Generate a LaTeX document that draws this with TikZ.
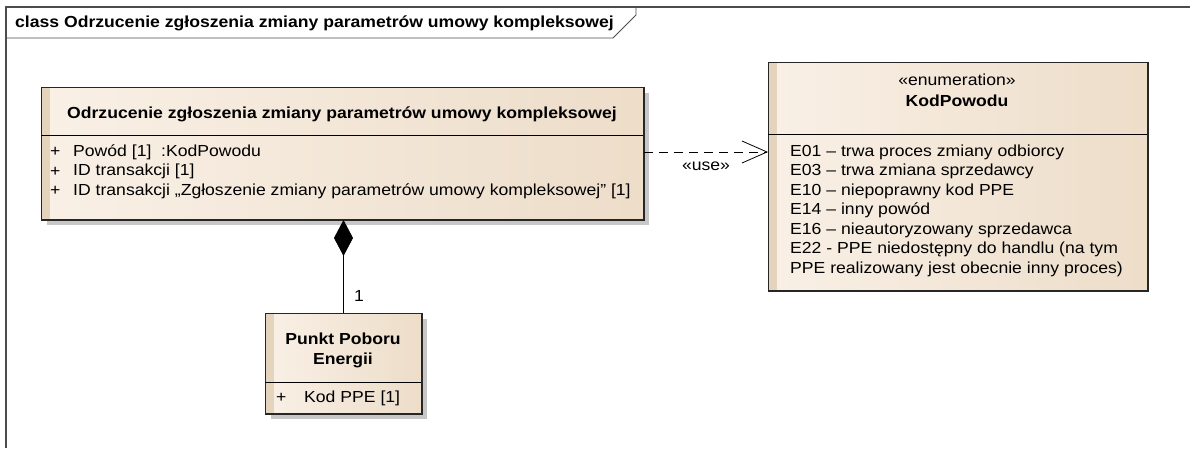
\documentclass[tikz,border=0pt]{standalone}
\usepackage{fontspec}
\setmainfont[FakeStretch=1.1]{Liberation Sans}
\usetikzlibrary{arrows.meta,shadows}
\definecolor{beigeL}{HTML}{F9F0E6}
\definecolor{beigeR}{HTML}{EDDDC9}
\definecolor{stripe}{HTML}{E4D3BD}
\begin{document}
\begin{tikzpicture}[x=1pt,y=-1pt,font=\fontsize{16}{20}\selectfont,
    cls/.style={draw=black!85,line width=1pt,left color=beigeL,right color=beigeR,anchor=north west,inner sep=0pt},
    shad/.style={drop shadow={shadow xshift=5pt,shadow yshift=-5pt,fill=black!22,opacity=1}},
    lbl/.style={anchor=west,inner sep=0pt},
    ttl/.style={inner sep=0pt,font=\fontsize{16}{20}\selectfont\bfseries},
    dep/.style={dashed,dash pattern=on 9pt off 6pt,line width=0.8pt,-{Straight Barb[length=25pt,width=22pt,line width=0.8pt]}},
    comp/.style={line width=0.8pt,-{Diamond[length=36pt,width=19pt]}}]
  \useasboundingbox (0,0) rectangle (1190,448);

  % frame and its tab
  \draw[line width=1.2pt,black!70] (6,448) -- (6,7) -- (1190,7);
  \draw[line width=0.8pt,black!70] (6,38) -- (613,38) -- (636,15) -- (636,7);
  \node[ttl,anchor=west] (frame) at (15,23) {class Odrzucenie zgłoszenia zmiany parametrów umowy kompleksowej};

  % class: Odrzucenie ...
  \node[cls,shad,minimum width=602pt,minimum height=132pt] (odr) at (41,87) {};
  \fill[stripe] (odr.north west) ++(0.5,0.5) rectangle ++(8,131);
  \draw[line width=1pt,black!85] (odr.north west) rectangle (odr.south east);
  \draw[line width=0.8pt] (41,135) -- (643,135);
  \node[ttl] (odrT) at (342,114) {Odrzucenie zgłoszenia zmiany parametrów umowy kompleksowej};
  \node[lbl] (p1) at (50,152) {+};
  \node[lbl] (a1) at (73,152) {Powód [1]\ \ :KodPowodu};
  \node[lbl] (p2) at (50,171.5) {+};
  \node[lbl] (a2) at (73,171.5) {ID transakcji [1]};
  \node[lbl] (p3) at (50,191) {+};
  \node[lbl] (a3) at (73,191) {ID transakcji „Zgłoszenie zmiany parametrów umowy kompleksowej” [1]};

  % enumeration KodPowodu
  \node[cls,minimum width=379pt,minimum height=228pt] (kod) at (768,62) {};
  \fill[stripe] (kod.north west) ++(0.5,0.5) rectangle ++(8,227);
  \draw[line width=1pt,black!85] (kod.north west) rectangle (kod.south east);
  \draw[line width=0.8pt] (768,134) -- (1147,134);
  \node[inner sep=0pt] (kodS) at (957,80) {«enumeration»};
  \node[ttl] (kodT) at (957,101) {KodPowodu};
  \node[lbl] (e1) at (790,152) {E01 – trwa proces zmiany odbiorcy};
  \node[lbl] (e2) at (790,171.5) {E03 – trwa zmiana sprzedawcy};
  \node[lbl] (e3) at (790,191) {E10 – niepoprawny kod PPE};
  \node[lbl] (e4) at (790,210.5) {E14 – inny powód};
  \node[lbl] (e5) at (790,230) {E16 – nieautoryzowany sprzedawca};
  \node[lbl] (e6) at (790,249.5) {E22 - PPE niedostępny do handlu (na tym};
  \node[lbl] (e7) at (790,269) {PPE realizowany jest obecnie inny proces)};

  % class: Punkt Poboru Energii
  \node[cls,shad,minimum width=156pt,minimum height=100pt] (ppe) at (265,313) {};
  \fill[stripe] (ppe.north west) ++(0.5,0.5) rectangle ++(8,99);
  \draw[line width=1pt,black!85] (ppe.north west) rectangle (ppe.south east);
  \draw[line width=0.8pt] (265,382) -- (421,382);
  \node[ttl,align=center] (ppeT) at (343,350) {Punkt Poboru\\Energii};
  \node[lbl] (q1) at (276,398) {+};
  \node[lbl] (k1) at (304,398) {Kod PPE [1]};

  % connectors
  \draw[dep] (odr.east |- a1) -- node[below=9pt,inner sep=0pt] (use) {«use»} (kod.west |- a1);
  \draw[comp] (ppe.north) -- (ppe.north |- odr.south);
  \node[inner sep=0pt] (mult) at (359,296) {1};
\end{tikzpicture}
\end{document}
